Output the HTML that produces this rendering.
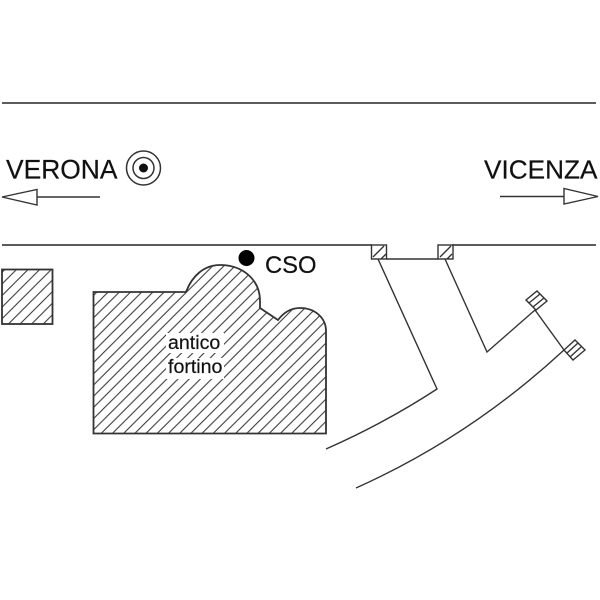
<!DOCTYPE html>
<html>
<head>
<meta charset="utf-8">
<style>
html,body{margin:0;padding:0;background:#fff;width:600px;height:600px;overflow:hidden}
svg{display:block}
text{font-family:"Liberation Sans",sans-serif;fill:#111;stroke:#111;stroke-width:.2}
</style>
</head>
<body>
<svg width="600" height="600" viewBox="0 0 600 600" xmlns="http://www.w3.org/2000/svg">
<defs>
<pattern id="h" patternUnits="userSpaceOnUse" width="11.2" height="11.2" patternTransform="translate(8.2 0)">
<path d="M-1 12.2L12.2 -1M-1 1L1 -1M10.2 12.2L12.2 10.2" stroke="#333" stroke-width="1.050" fill="none"/>
</pattern>
<pattern id="s" patternUnits="userSpaceOnUse" width="11.6" height="11.6" patternTransform="translate(7.6 0)">
<path d="M-1 12.6L12.6 -1M-1 1L1 -1M10.6 12.6L12.6 10.6" stroke="#333" stroke-width="1.050" fill="none"/>
</pattern>
</defs>
<rect width="600" height="600" fill="#fff"/>
<g fill="none" stroke="#444" stroke-width="1.800">
<path d="M2 103H596"/>
<path d="M2 245H372M452 245H596"/>
</g>
<rect x="2" y="269.500" width="50.500" height="54.500" fill="url(#s)" stroke="#333" stroke-width="1.800"/>
<path d="M93.500 292H186C192 276 204 265 220 265C243 265 260 280 260 301V308L278 320C284 312 291 308 300 308C315 308 326 318 326 331V433.500H93.500Z" fill="url(#h)" stroke="#333" stroke-width="1.800"/>
<rect x="166" y="333" width="58" height="20" fill="#fff"/>
<rect x="166" y="358" width="58" height="21" fill="#fff"/>
<text x="168" y="349" font-size="19.600">antico</text>
<text x="168" y="373" font-size="19.600">fortino</text>
<text x="6" y="178.500" font-size="26.400">VERONA</text>
<text x="484" y="178.500" font-size="26.200">VICENZA</text>
<text x="265" y="273" font-size="23.800">CSO</text>
<circle cx="143.500" cy="168" r="17" fill="none" stroke="#333" stroke-width="1.500"/>
<circle cx="143.500" cy="168" r="10.500" fill="none" stroke="#333" stroke-width="1.500"/>
<circle cx="143.500" cy="168" r="4.500" fill="#111"/>
<circle cx="246.500" cy="258" r="8" fill="#000"/>
<g fill="none" stroke="#333" stroke-width="1.400">
<path d="M2 197L37 189.500V205ZM37 197H100"/>
<path d="M500 196.500H564M564 188.500V204L598 196.500Z"/>
<rect x="371.500" y="245" width="15" height="14" fill="#fff"/>
<rect x="438" y="245" width="15" height="14" fill="#fff"/>
<path d="M373 257L384 246M440 257L451 246M381 259L386 254M447 259L452 254"/>
<path d="M386 259H438"/>
<path d="M378 259L437 389Q385 423 326 449"/>
<path d="M445 259L487 352L535 310L564 350Q470 437 356 488"/>
<path d="M537 291L547 301L536 310L526 300Z" fill="#fff"/>
<path d="M575 340L585 350L573 360L564 350Z" fill="#fff"/>
<path d="M529 303L540 294M533 307L544 298M567 353L578 343M570 357L581 347"/>
</g>
</svg>
</body>
</html>
